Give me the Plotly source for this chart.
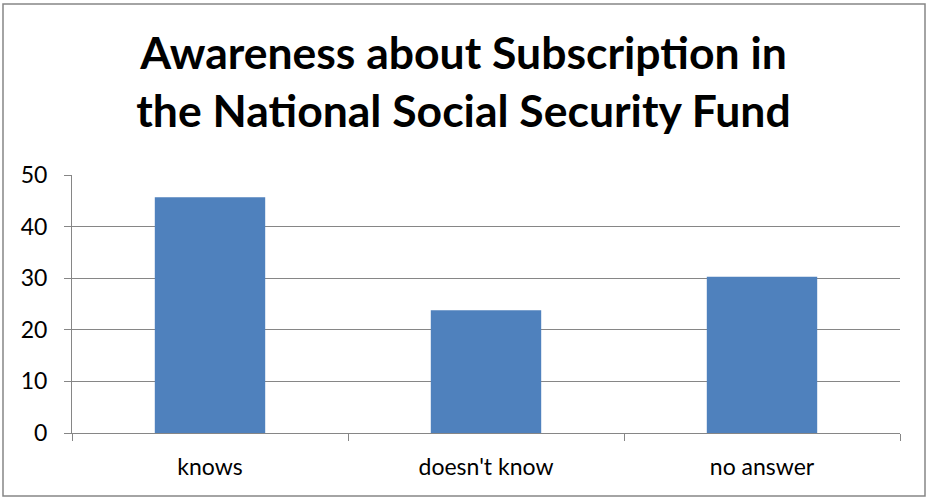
import plotly.graph_objects as go

categories = ["knows", "doesn't know", "no answer"]
values = [45.7, 23.8, 30.3]
y_ticks = [0, 10, 20, 30, 40, 50]

W, H = 927, 500
ml, mr, mt, mb = 72, 27, 175, 67
pw = W - ml - mr
ph = H - mt - mb

def px_x(x):
    return (x - ml) / pw

def px_y(y):
    return (H - mb - y) / ph

fig = go.Figure(go.Bar(x=categories, y=values, marker=dict(color="#4F81BD", line=dict(width=0))))

fig.update_layout(
    width=W, height=H,
    margin=dict(l=ml, r=mr, t=mt, b=mb),
    paper_bgcolor="white", plot_bgcolor="white",
    bargap=0.6,
    showlegend=False,
    font=dict(family="Lato, 'Open Sans', sans-serif", color="black"),
    title=dict(
        text="<b>Awareness about Subscription in<br>the National Social Security Fund</b>",
        x=0.5, xanchor="center", xref="container",
        y=1 - 69 / H, yanchor="middle",
        font=dict(size=44.5, family="Lato, sans-serif", color="black"),
    ),
    xaxis=dict(
        showline=True, linecolor="#868686", linewidth=1,
        ticks="outside", tickson="boundaries", ticklen=7, tickcolor="#868686",
        tickfont=dict(size=23), showgrid=False, ticklabelstandoff=13,
    ),
    yaxis=dict(
        range=[0, 50], tickvals=y_ticks,
        showline=True, linecolor="#868686", linewidth=1,
        ticks="outside", ticklen=7, tickcolor="#868686",
        showgrid=True, gridcolor="#868686", gridwidth=1,
        tickfont=dict(size=23), ticklabelstandoff=12, zeroline=False,
    ),
    shapes=[dict(type="rect", xref="paper", yref="paper",
                 x0=px_x(3), x1=px_x(925), y0=px_y(496), y1=px_y(4),
                 line=dict(color="#868686", width=1.5), fillcolor="rgba(0,0,0,0)", layer="below")],
)

fig.write_html("out.html")
